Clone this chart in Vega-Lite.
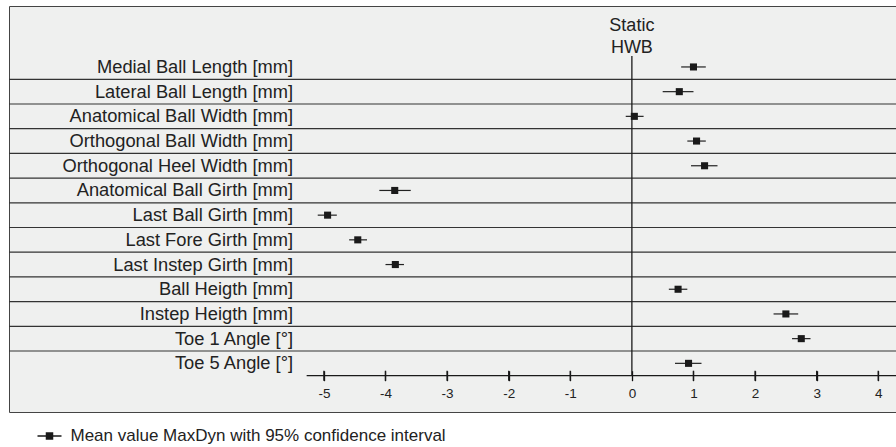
{
  "$schema": "https://vega.github.io/schema/vega-lite/v6.json",
  "width": 888,
  "height": 406,
  "autosize": {"type": "none"},
  "padding": {"left": 9, "top": 6, "right": 0, "bottom": 35},
  "background": "white",
  "config": {
    "view": {"stroke": "#444444", "strokeWidth": 1, "fill": "#eff0ef"},
    "font": "Liberation Sans",
    "axisX": {
      "ticks": true,
      "tickSize": 10,
      "tickColor": "#111111",
      "tickWidth": 1.3,
      "domain": false,
      "grid": false,
      "labelFont": "Liberation Sans",
      "labelFontSize": 13.5,
      "labelColor": "#222222",
      "labelPadding": 6
    }
  },
  "data": {
    "values": [
      {"row": 1, "label": "Medial Ball Length [mm]", "mean": 1.0, "lo": 0.8, "hi": 1.2},
      {"row": 2, "label": "Lateral Ball Length [mm]", "mean": 0.77, "lo": 0.5, "hi": 1.0},
      {"row": 3, "label": "Anatomical Ball Width [mm]", "mean": 0.04, "lo": -0.1, "hi": 0.19},
      {"row": 4, "label": "Orthogonal Ball Width [mm]", "mean": 1.05, "lo": 0.9, "hi": 1.2},
      {"row": 5, "label": "Orthogonal Heel Width [mm]", "mean": 1.18, "lo": 0.96, "hi": 1.39},
      {"row": 6, "label": "Anatomical Ball Girth [mm]", "mean": -3.85, "lo": -4.1, "hi": -3.59},
      {"row": 7, "label": "Last Ball Girth [mm]", "mean": -4.94, "lo": -5.1, "hi": -4.79},
      {"row": 8, "label": "Last Fore Girth [mm]", "mean": -4.45, "lo": -4.59, "hi": -4.3},
      {"row": 9, "label": "Last Instep Girth [mm]", "mean": -3.84, "lo": -4.0, "hi": -3.7},
      {"row": 10, "label": "Ball Heigth [mm]", "mean": 0.75, "lo": 0.6, "hi": 0.9},
      {"row": 11, "label": "Instep Heigth [mm]", "mean": 2.5, "lo": 2.3, "hi": 2.7},
      {"row": 12, "label": "Toe 1 Angle [°]", "mean": 2.75, "lo": 2.6, "hi": 2.9},
      {"row": 13, "label": "Toe 5 Angle [°]", "mean": 0.92, "lo": 0.7, "hi": 1.13}
    ]
  },
  "layer": [
    {
      "transform": [{"filter": "datum.row < 13"}],
      "mark": {"type": "rule", "color": "#333333", "strokeWidth": 1.2},
      "encoding": {
        "y": {"field": "row", "type": "quantitative", "scale": {"domain": [-1.468, 14.97], "reverse": true, "nice": false, "zero": false}, "axis": null},
        "yOffset": {"value": 12.35}
      }
    },
    {
      "mark": {"type": "rule", "color": "#222222", "strokeWidth": 1.2},
      "encoding": {
        "x": {"field": "lo", "type": "quantitative",
          "scale": {"domain": [-10.112, 4.304], "nice": false, "zero": false},
          "axis": {
            "values": [-5, -4, -3, -2, -1, 0, 1, 2, 3, 4],
            "orient": "bottom",
            "offset": -41.3,
            "ticks": true,
            "tickSize": 10,
            "labelFlush": false,
            "labelOverlap": false,
            "labelExpr": "datum.value < 0 ? '-' + abs(datum.value) : '' + datum.value",
            "title": null
          }
        },
        "x2": {"field": "hi"},
        "y": {"field": "row", "type": "quantitative"}
      }
    },
    {
      "data": {"values": [{"tick": -5}, {"tick": -4}, {"tick": -3}, {"tick": -2}, {"tick": -1}, {"tick": 1}, {"tick": 2}, {"tick": 3}, {"tick": 4}]},
      "mark": {"type": "rule", "color": "#1a1a1a", "strokeWidth": 1.3},
      "encoding": {
        "x": {"field": "tick", "type": "quantitative"},
        "y": {"datum": 13.2976},
        "y2": {"datum": 13.7024}
      }
    },
    {
      "data": {"values": [{}]},
      "mark": {"type": "rule", "color": "#1a1a1a", "strokeWidth": 1.3},
      "encoding": {
        "x": {"datum": -5.28},
        "x2": {"datum": 4.304},
        "y": {"datum": 13.5}
      }
    },
    {
      "data": {"values": [{}]},
      "mark": {"type": "rule", "color": "#1a1a1a", "strokeWidth": 1.3},
      "encoding": {
        "x": {"datum": 0},
        "y": {"datum": 0.56},
        "y2": {"datum": 13.5}
      }
    },
    {
      "mark": {"type": "point", "shape": "square", "filled": true, "size": 50, "opacity": 1},
      "encoding": {
        "x": {"field": "mean", "type": "quantitative"},
        "y": {"field": "row", "type": "quantitative"},
        "color": {
          "datum": "Mean value MaxDyn with 95% confidence interval",
          "scale": {"range": ["#1a1a1a"]},
          "legend": {
            "orient": "none",
            "legendX": 27.5,
            "legendY": 417,
            "title": null,
            "symbolType": "M-1,0H1M-0.25,-0.25H0.25V0.25H-0.25Z",
            "symbolSize": 576,
            "symbolFillColor": "#1a1a1a",
            "symbolStrokeColor": "#1a1a1a",
            "symbolStrokeWidth": 1.5,
            "labelFont": "Liberation Sans",
            "labelFontSize": 17,
            "labelColor": "#222222",
            "labelOffset": 8,
            "labelLimit": 0
          }
        }
      }
    },
    {
      "mark": {"type": "text", "align": "right", "baseline": "middle", "fontSize": 18.3, "color": "#222222", "dy": 1},
      "encoding": {
        "x": {"datum": -5.5},
        "y": {"field": "row", "type": "quantitative"},
        "text": {"field": "label"}
      }
    },
    {
      "data": {"values": [{}]},
      "mark": {"type": "text", "align": "center", "baseline": "alphabetic", "fontSize": 18, "lineHeight": 22.7, "color": "#222222"},
      "encoding": {
        "x": {"datum": 0},
        "y": {"datum": -0.4676},
        "text": {"value": ["Static", "HWB"]}
      }
    }
  ]
}
